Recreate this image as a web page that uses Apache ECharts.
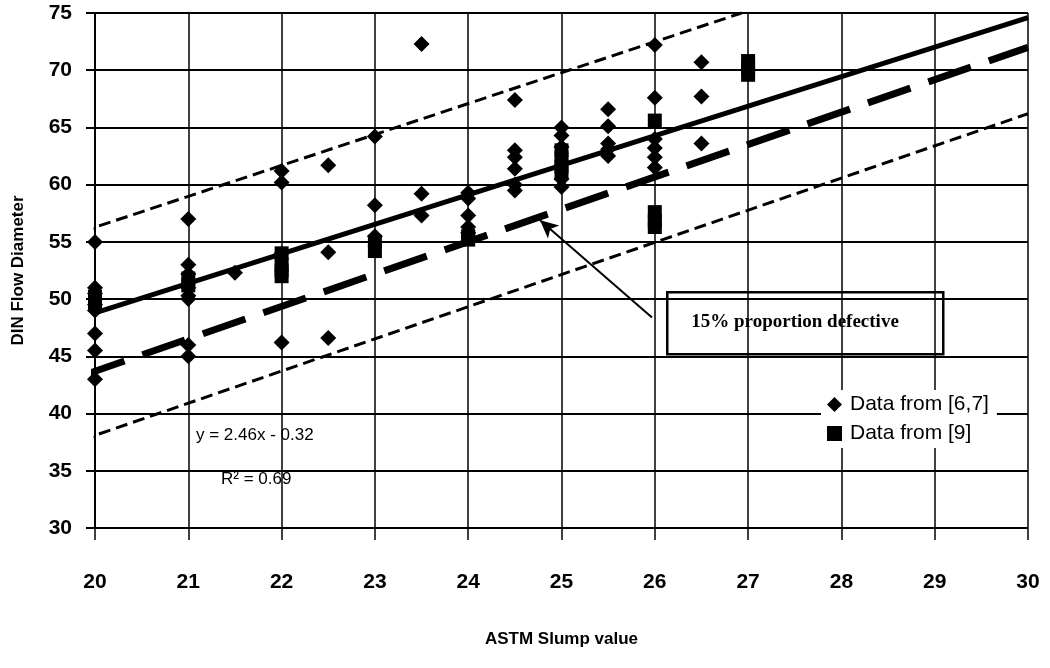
<!DOCTYPE html>
<html>
<head>
<meta charset="utf-8">
<script src="https://cdn.jsdelivr.net/npm/echarts@6/dist/echarts.min.js"></script>
<style>
  html, body { margin: 0; padding: 0; background: #fff; }
  #chart { width: 1050px; height: 668px; }
</style>
</head>
<body>
<div id="chart"></div>
<script>
// Data from [6,7] (diamonds)
var slumpA = [20, 20, 20, 20, 20, 20, 20, 20,
    21, 21, 21, 21, 21, 21, 21, 21,
    21.5,
    22, 22, 22, 22,
    22.5, 22.5, 22.5,
    23, 23, 23,
    23.5, 23.5, 23.5,
    24, 24, 24, 24, 24,
    24.5, 24.5, 24.5, 24.5, 24.5, 24.5,
    25, 25, 25, 25, 25,
    25.5, 25.5, 25.5, 25.5, 25.5,
    26, 26, 26, 26, 26, 26,
    26.5, 26.5, 26.5];
var flowA = [55, 51, 50.5, 49.5, 49, 47, 45.5, 43,
    57, 53, 52.2, 51, 50.3, 50, 46, 45,
    52.3,
    61.2, 60.2, 54, 46.2,
    61.7, 54.1, 46.6,
    64.2, 58.2, 55.5,
    72.3, 59.2, 57.3,
    59.3, 58.8, 57.3, 56.3, 55.8,
    67.4, 63, 62.4, 61.4, 60, 59.5,
    65, 64.3, 63.3, 60.5, 59.8,
    66.6, 65.1, 63.6, 63.1, 62.5,
    72.2, 67.6, 64, 63.2, 62.4, 61.5,
    70.7, 67.7, 63.6];

// Data from [9] (squares)
var slumpB = [20, 20, 21, 21, 22, 22, 22, 22, 23, 23, 24, 24,
    25, 25, 25, 25, 26, 26, 26, 26, 27, 27, 27];
var flowB = [50.2, 49.6, 51.8, 51.2, 54, 53, 52.5, 52, 55, 54.2, 55.5, 55.2,
    63, 62.3, 61.6, 61, 65.6, 57.6, 56.8, 56.3, 70.8, 70.2, 69.6];

// lines: [x, y] end points
var fitLine = [[20, 48.8], [30, 74.6]];
var defectLine = [[19.86, 43.3], [30, 72]];
var upperLine = [[19.86, 55.9], [26.93, 75]];
var lowerLine = [[19.86, 37.7], [30, 66.2]];

var xTicks = [20, 21, 22, 23, 24, 25, 26, 27, 28, 29, 30];
var yTicks = [30, 35, 40, 45, 50, 55, 60, 65, 70, 75];

function zip(xs, ys) {
    return xs.map(function (x, i) { return [x, ys[i]]; });
}

var myChart = echarts.init(document.getElementById('chart'));
var tickFont = { color: '#000', fontSize: 21, fontWeight: 'bold', fontFamily: 'Liberation Sans, Arial, sans-serif' };

var option = {
    animation: false,
    backgroundColor: '#fff',
    grid: { left: 95, right: 22, top: 13, bottom: 140 },
    xAxis: {
        type: 'value',
        min: xTicks[0],
        max: xTicks[xTicks.length - 1],
        interval: 1,
        name: 'ASTM Slump value',
        nameLocation: 'middle',
        nameGap: 103,
        nameTextStyle: { color: '#000', fontSize: 17, fontWeight: 'bold', fontFamily: 'Liberation Sans, Arial, sans-serif' },
        axisLine: { show: false },
        axisTick: { show: true, length: 12, lineStyle: { color: '#000', width: 1.5 } },
        axisLabel: Object.assign({ margin: 44 }, tickFont),
        splitLine: { show: true, lineStyle: { color: '#000', width: 1.5 } }
    },
    yAxis: {
        type: 'value',
        min: yTicks[0],
        max: yTicks[yTicks.length - 1],
        interval: 5,
        name: 'DIN Flow Diameter',
        nameLocation: 'middle',
        nameGap: 68,
        nameTextStyle: { color: '#000', fontSize: 17, fontWeight: 'bold', fontFamily: 'Liberation Sans, Arial, sans-serif' },
        axisLine: { show: true, lineStyle: { color: '#000', width: 2 } },
        axisTick: { show: true, length: 9, lineStyle: { color: '#000', width: 2 } },
        axisLabel: Object.assign({ margin: 23 }, tickFont),
        splitLine: { show: true, lineStyle: { color: '#000', width: 2 } }
    },
    legend: {
        orient: 'vertical',
        left: 821,
        top: 390,
        backgroundColor: '#fff',
        padding: [4, 8, 4, 6],
        itemGap: 8,
        itemWidth: 15,
        itemHeight: 15,
        textStyle: { color: '#000', fontSize: 21, fontFamily: 'Liberation Sans, Arial, sans-serif', padding: [0, 0, 0, 3] },
        data: [
            { name: 'Data from [6,7]', icon: 'diamond' },
            { name: 'Data from [9]', icon: 'rect' }
        ]
    },
    graphic: [
        {
            type: 'group', left: 193, top: 405, z: 1,
            children: [
                { type: 'rect', shape: { x: 0, y: 0, width: 128, height: 112 }, style: { fill: '#fff' } },
                { type: 'text', left: 3, top: 22, style: { text: 'y = 2.46x - 0.32', fill: '#000', font: '17px Liberation Sans, Arial, sans-serif' } },
                { type: 'text', left: 28, top: 66, style: { text: 'R² = 0.69', fill: '#000', font: '17px Liberation Sans, Arial, sans-serif' } }
            ]
        },
        {
            type: 'group', left: 666, top: 291, z: 5,
            children: [
                { type: 'rect', shape: { x: 0, y: 0, width: 276, height: 62 }, style: { fill: '#fff', stroke: '#000', lineWidth: 2.5 } },
                { type: 'text', left: 24, top: 20, style: { text: '15% proportion defective', fill: '#000', font: 'bold 19px Liberation Serif, Times New Roman, serif' } }
            ]
        }
    ],
    series: [
        {
            name: 'lower', type: 'line', data: lowerLine, clip: false, symbol: 'none', z: 3,
            lineStyle: { color: '#000', width: 3, type: [12, 6] }
        },
        {
            name: 'upper', type: 'line', data: upperLine, clip: false, symbol: 'none', z: 3,
            lineStyle: { color: '#000', width: 3, type: [12, 6] }
        },
        {
            name: 'defect', type: 'line', data: defectLine, clip: false, symbol: 'none', z: 3,
            lineStyle: { color: '#000', width: 7, type: [45, 19] },
            markLine: {
                silent: true,
                symbol: ['none', 'arrow'],
                symbolSize: [13, 18],
                label: { show: false },
                lineStyle: { color: '#000', width: 2, type: 'solid' },
                data: [[{ coord: [25.97, 48.4] }, { coord: [24.77, 56.9] }]]
            }
        },
        {
            name: 'fit', type: 'line', data: fitLine, symbol: 'none', z: 3,
            lineStyle: { color: '#000', width: 5 }
        },
        {
            name: 'Data from [6,7]', type: 'scatter', data: zip(slumpA, flowA), z: 4,
            symbol: 'diamond', symbolSize: 16,
            itemStyle: { color: '#000', opacity: 1 }
        },
        {
            name: 'Data from [9]', type: 'scatter', data: zip(slumpB, flowB), z: 4,
            symbol: 'rect', symbolSize: 14,
            itemStyle: { color: '#000', opacity: 1 }
        }
    ]
};
myChart.setOption(option);
</script>
</body>
</html>
